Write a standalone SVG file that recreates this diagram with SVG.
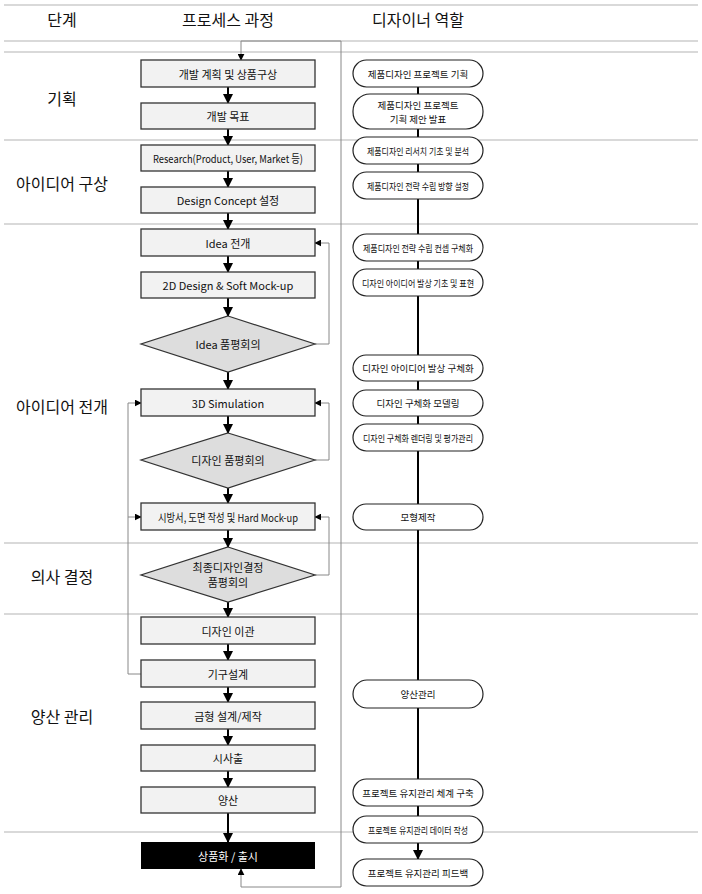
<svg xmlns="http://www.w3.org/2000/svg" width="702" height="894" viewBox="0 0 702 894">
<defs>
<style>
text{font-family:"Noto Sans CJK KR","Noto Sans",sans-serif;text-anchor:middle;dominant-baseline:central;fill:#111}
.h{font-size:16px}
.st{font-size:16px}
.b{font-size:11px}
.p{font-size:9.5px}
.box{fill:#f2f2f2;stroke:#333;stroke-width:1.3}
.dia{fill:#dddddd;stroke:#333;stroke-width:1.2}
.pill{fill:#fff;stroke:#222;stroke-width:1.2}
.sep{stroke:#d9d9d9;stroke-width:2}
.flow{stroke:#000;stroke-width:2;fill:none}
.thin{stroke:#888;stroke-width:1;fill:none}
</style>
<marker id="a" viewBox="0 0 10 10" refX="9" refY="5" markerWidth="5" markerHeight="5" orient="auto"><path d="M0,0L10,5L0,10z" fill="#000"/></marker>
<marker id="t" viewBox="0 0 10 10" refX="9" refY="5" markerWidth="7" markerHeight="7" orient="auto"><path d="M0,0L10,5L0,10z" fill="#000"/></marker>
</defs>
<rect width="702" height="894" fill="#fff"/>
<g id="grid">
<line class="sep" x1="4" y1="5" x2="698" y2="5"/>
<line class="sep" x1="4" y1="41" x2="698" y2="41"/>
<line class="sep" x1="4" y1="52" x2="698" y2="52"/>
<line class="sep" x1="4" y1="140" x2="698" y2="140"/>
<line class="sep" x1="4" y1="224" x2="698" y2="224"/>
<line class="sep" x1="4" y1="543" x2="698" y2="543"/>
<line class="sep" x1="4" y1="614" x2="698" y2="614"/>
<line class="sep" x1="4" y1="832" x2="698" y2="832"/>
</g>
<g id="headers">
<text class="h" x="62" y="19">단계</text>
<text class="h" x="228" y="19">프로세스 과정</text>
<text class="h" x="418" y="19">디자이너 역할</text>
<text class="st" x="62" y="98">기획</text>
<text class="st" x="62" y="183">아이디어 구상</text>
<text class="st" x="62" y="406">아이디어 전개</text>
<text class="st" x="62" y="576">의사 결정</text>
<text class="st" x="62" y="716">양산 관리</text>
</g>
<g id="connectors">
<polyline class="thin" points="341,41 341,887 241,887 241,869" marker-end="url(#t)"/>
<polyline class="thin" points="341,41 241,41 241,60" marker-end="url(#t)"/>
<polyline class="thin" points="315,344 329,344 329,243 315,243" marker-end="url(#t)"/>
<polyline class="thin" points="315,460 329,460 329,403 315,403" marker-end="url(#t)"/>
<polyline class="thin" points="315,575 329,575 329,517 315,517" marker-end="url(#t)"/>
<polyline class="thin" points="141,674 128,674 128,403 141,403" marker-end="url(#t)"/>
<polyline class="thin" points="128,517 141,517" marker-end="url(#t)"/>
<line class="flow" x1="228" y1="87" x2="228" y2="103" marker-end="url(#a)"/>
<line class="flow" x1="228" y1="129" x2="228" y2="145" marker-end="url(#a)"/>
<line class="flow" x1="228" y1="171" x2="228" y2="187" marker-end="url(#a)"/>
<line class="flow" x1="228" y1="213" x2="228" y2="229" marker-end="url(#a)"/>
<line class="flow" x1="228" y1="256" x2="228" y2="272" marker-end="url(#a)"/>
<line class="flow" x1="228" y1="298" x2="228" y2="316" marker-end="url(#a)"/>
<line class="flow" x1="228" y1="372" x2="228" y2="389" marker-end="url(#a)"/>
<line class="flow" x1="228" y1="416" x2="228" y2="433" marker-end="url(#a)"/>
<line class="flow" x1="228" y1="488" x2="228" y2="503" marker-end="url(#a)"/>
<line class="flow" x1="228" y1="530" x2="228" y2="547" marker-end="url(#a)"/>
<line class="flow" x1="228" y1="602" x2="228" y2="617" marker-end="url(#a)"/>
<line class="flow" x1="228" y1="644" x2="228" y2="660" marker-end="url(#a)"/>
<line class="flow" x1="228" y1="687" x2="228" y2="702" marker-end="url(#a)"/>
<line class="flow" x1="228" y1="729" x2="228" y2="745" marker-end="url(#a)"/>
<line class="flow" x1="228" y1="771" x2="228" y2="787" marker-end="url(#a)"/>
<line class="flow" x1="228" y1="813" x2="228" y2="842" marker-end="url(#a)"/>
<line class="flow" x1="418" y1="60" x2="418" y2="816"/>
<line class="flow" x1="418" y1="843" x2="418" y2="859" marker-end="url(#a)"/>
</g>
<g id="n1"><rect class="box" x="141" y="60" width="174" height="27"/><text class="b" x="228" y="73.5">개발 계획 및 상품구상</text></g>
<g id="n2"><rect class="box" x="141" y="103" width="174" height="26"/><text class="b" x="228" y="116">개발 목표</text></g>
<g id="n3"><rect class="box" x="141" y="145" width="174" height="26"/><text class="b" x="228" y="158" textLength="150" lengthAdjust="spacingAndGlyphs">Research(Product, User, Market 등)</text></g>
<g id="n4"><rect class="box" x="141" y="187" width="174" height="26"/><text class="b" x="228" y="200">Design Concept 설정</text></g>
<g id="n5"><rect class="box" x="141" y="229" width="174" height="27"/><text class="b" x="228" y="242.5">Idea 전개</text></g>
<g id="n6"><rect class="box" x="141" y="272" width="174" height="26"/><text class="b" x="228" y="285">2D Design &amp; Soft Mock-up</text></g>
<g id="d1"><polygon class="dia" points="228,316 315,344 228,372 141,344"/><text class="b" x="228" y="344">Idea 품평회의</text></g>
<g id="n7"><rect class="box" x="141" y="389" width="174" height="27"/><text class="b" x="228" y="402.5">3D Simulation</text></g>
<g id="d2"><polygon class="dia" points="228,433 315,460 228,488 141,460"/><text class="b" x="228" y="460">디자인 품평회의</text></g>
<g id="n8"><rect class="box" x="141" y="503" width="174" height="27"/><text class="b" x="228" y="516.5" textLength="140" lengthAdjust="spacingAndGlyphs">시방서, 도면 작성 및 Hard Mock-up</text></g>
<g id="d3"><polygon class="dia" points="228,547 315,575 228,602 141,575"/><text class="b" x="228" y="567">최종디자인결정</text><text class="b" x="228" y="582">품평회의</text></g>
<g id="n9"><rect class="box" x="141" y="617" width="174" height="27"/><text class="b" x="228" y="630.5">디자인 이관</text></g>
<g id="n10"><rect class="box" x="141" y="660" width="174" height="27"/><text class="b" x="228" y="673.5">기구설계</text></g>
<g id="n11"><rect class="box" x="141" y="702" width="174" height="27"/><text class="b" x="228" y="715.5">금형 설계/제작</text></g>
<g id="n12"><rect class="box" x="141" y="745" width="174" height="26"/><text class="b" x="228" y="758">시사출</text></g>
<g id="n13"><rect class="box" x="141" y="787" width="174" height="26"/><text class="b" x="228" y="800">양산</text></g>
<g id="n14"><rect x="141" y="842" width="174" height="27" fill="#000"/><text class="b" x="228" y="855.5" style="fill:#fff">상품화 / 출시</text></g>
<g id="r1"><rect class="pill" x="353" y="60" width="130" height="27" rx="13.5"/><text class="p" x="418" y="73.5">제품디자인 프로젝트 기획</text></g>
<g id="r2"><rect class="pill" x="353" y="94" width="130" height="35" rx="17"/><text class="p" x="418" y="104.5">제품디자인 프로젝트</text><text class="p" x="418" y="118.5">기획 제안 발표</text></g>
<g id="r3"><rect class="pill" x="353" y="137" width="130" height="27" rx="13.5"/><text class="p" x="418" y="150.5" textLength="102" lengthAdjust="spacingAndGlyphs">제품디자인 리서치 기초 및 분석</text></g>
<g id="r4"><rect class="pill" x="353" y="172" width="130" height="27" rx="13.5"/><text class="p" x="418" y="185.5" textLength="102" lengthAdjust="spacingAndGlyphs">제품디자인 전략 수립 방향 설정</text></g>
<g id="r5"><rect class="pill" x="353" y="234" width="130" height="27" rx="13.5"/><text class="p" x="418" y="247.5" textLength="110" lengthAdjust="spacingAndGlyphs">제품디자인 전략 수립 컨셉 구체화</text></g>
<g id="r6"><rect class="pill" x="353" y="269" width="130" height="27" rx="13.5"/><text class="p" x="418" y="282.5" textLength="112" lengthAdjust="spacingAndGlyphs">디자인 아이디어 발상 기초 및 표현</text></g>
<g id="r7"><rect class="pill" x="353" y="355" width="130" height="26" rx="13"/><text class="p" x="418" y="368">디자인 아이디어 발상 구체화</text></g>
<g id="r8"><rect class="pill" x="353" y="390" width="130" height="26" rx="13"/><text class="p" x="418" y="403">디자인 구체화 모델링</text></g>
<g id="r9"><rect class="pill" x="353" y="424" width="130" height="27" rx="13.5"/><text class="p" x="418" y="437.5" textLength="110" lengthAdjust="spacingAndGlyphs">디자인 구체화 렌더링 및 평가관리</text></g>
<g id="r10"><rect class="pill" x="353" y="504" width="130" height="26" rx="13"/><text class="p" x="418" y="517">모형제작</text></g>
<g id="r11"><rect class="pill" x="353" y="680" width="130" height="28" rx="14"/><text class="p" x="418" y="694">양산관리</text></g>
<g id="r12"><rect class="pill" x="353" y="779" width="130" height="27" rx="13.5"/><text class="p" x="418" y="792.5">프로젝트 유지관리 체계 구축</text></g>
<g id="r13"><rect class="pill" x="353" y="816" width="130" height="27" rx="13.5"/><text class="p" x="418" y="829.5" textLength="100" lengthAdjust="spacingAndGlyphs">프로젝트 유지관리 데이터 작성</text></g>
<g id="r14"><rect class="pill" x="353" y="859" width="130" height="27" rx="13.5"/><text class="p" x="418" y="872.5">프로젝트 유지관리 피드백</text></g>
</svg>
